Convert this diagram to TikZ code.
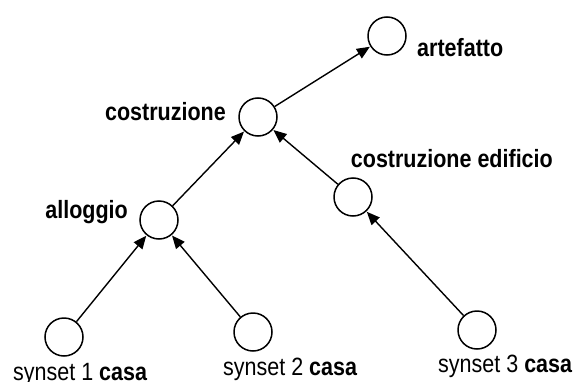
\documentclass[tikz,border=0pt]{standalone}
\usepackage{fontspec}
\setmainfont[FakeStretch=0.86]{Liberation Sans}
\usetikzlibrary{arrows.meta}
\begin{document}
\begin{tikzpicture}[x=1pt,y=1pt,
  syn/.style={circle,draw,line width=1.5pt,minimum size=38pt,inner sep=0pt},
  lab/.style={inner sep=0pt,font=\fontsize{25pt}{28pt}\selectfont\bfseries},
  slab/.style={inner sep=0pt,font=\fontsize{25pt}{28pt}\selectfont},
  isa/.style={line width=1.4pt,-{Triangle[length=13pt,width=11pt]},shorten >=0.5pt}]
\useasboundingbox (0,0) rectangle (577,381);
\node[syn] (A) at (387,345) {};
\node[syn] (C) at (258,264) {};
\node[syn] (E) at (353,184) {};
\node[syn] (L) at (159,161) {};
\node[syn] (S1) at (64,44) {};
\node[syn] (S2) at (253,49) {};
\node[syn] (S3) at (477,51) {};
\node[lab,anchor=base west] (tA) at (417,324) {artefatto};
\node[lab,anchor=base east] (tC) at (226,261) {costruzione};
\node[lab,anchor=base east] (tE) at (553,214) {costruzione edificio};
\node[lab,anchor=base east] (tL) at (128,163) {alloggio};
\node[slab,anchor=base west] (t1) at (13,0.5) {synset 1 \textbf{casa}};
\node[slab,anchor=base west] (t2) at (223,5.5) {synset 2 \textbf{casa}};
\node[slab,anchor=base west] (t3) at (438,8.5) {synset 3 \textbf{casa}};
\draw[isa] (C) -- (A);
\draw[isa] (L) -- (C);
\draw[isa] (E) -- (C);
\draw[isa] (S1) -- (L);
\draw[isa] (S2) -- (L);
\draw[isa] (S3) -- (E);
\end{tikzpicture}
\end{document}
